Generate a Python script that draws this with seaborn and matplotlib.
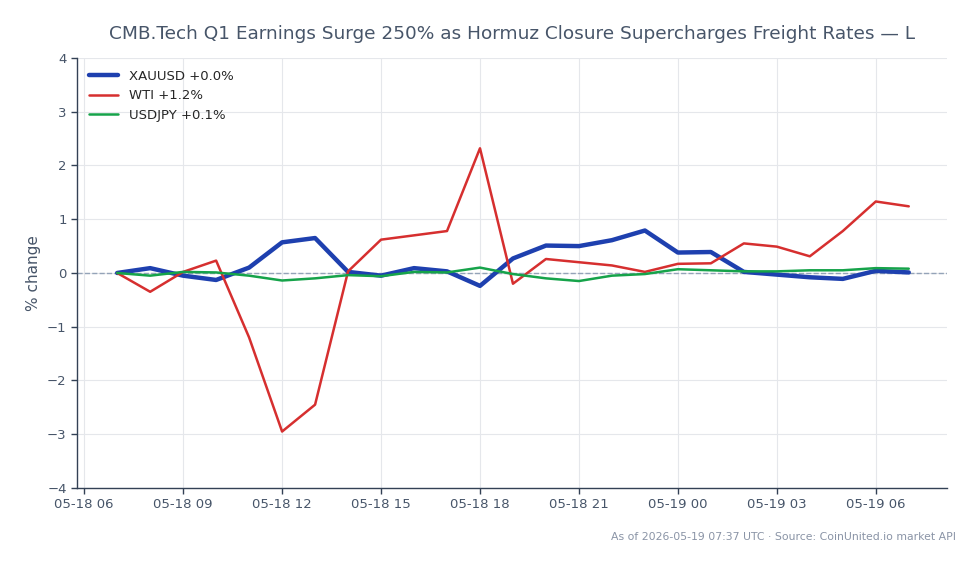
import pandas as pd
import numpy as np
import matplotlib.pyplot as plt
import matplotlib.dates as mdates
import seaborn as sns

# hourly % change, 05-18 07:00 -> 05-19 07:00
times = pd.date_range('2026-05-18 07:00', '2026-05-19 07:00', freq='h')

xauusd = [0.0, 0.09, -0.05, -0.13, 0.10, 0.57, 0.65, 0.02, -0.05, 0.09, 0.03, -0.24, 0.27,
          0.51, 0.50, 0.61, 0.79, 0.38, 0.39, 0.02, -0.03, -0.08, -0.11, 0.04, 0.01]
wti = [0.0, -0.35, 0.02, 0.23, -1.20, -2.95, -2.45, 0.03, 0.62, 0.70, 0.78, 2.32, -0.20,
       0.26, 0.20, 0.14, 0.02, 0.17, 0.18, 0.55, 0.49, 0.31, 0.78, 1.33, 1.24]
usdjpy = [0.0, -0.05, 0.02, 0.01, -0.05, -0.14, -0.10, -0.04, -0.06, 0.02, 0.01, 0.10, -0.02,
          -0.10, -0.15, -0.05, -0.02, 0.07, 0.05, 0.03, 0.03, 0.05, 0.05, 0.09, 0.08]

labels = ['XAUUSD +0.0%', 'WTI +1.2%', 'USDJPY +0.1%']
colors = ['#1e40af', '#d62f2f', '#16a34a']
widths = [3.2, 1.8, 1.8]

sns.set_theme(style='whitegrid')
plt.rcParams['font.family'] = ['DejaVu Sans']

fig = plt.figure(figsize=(9.79, 5.64), dpi=100)
ax = fig.add_axes([0.0787, 0.1348, 0.8883, 0.7624])

ax.axhline(0, color='#94a3b8', lw=1, ls='--', zorder=1)

for vals, lab, c, w in zip([xauusd, wti, usdjpy], labels, colors, widths):
    df = pd.DataFrame({'time': times, 'pct': vals})
    sns.lineplot(data=df, x='time', y='pct', ax=ax, color=c, linewidth=w, label=lab, zorder=3)

ax.set_xlim(pd.Timestamp('2026-05-18 05:47'), pd.Timestamp('2026-05-19 08:09'))
ax.set_ylim(-4, 4)
ax.xaxis.set_major_locator(mdates.HourLocator(byhour=range(0, 24, 3)))
ax.xaxis.set_major_formatter(mdates.DateFormatter('%m-%d %H'))
ax.set_yticks(range(-4, 5))
ax.set_yticklabels([('\u2212' + str(-v)) if v < 0 else str(v) for v in range(-4, 5)])

ax.set_facecolor('white')
ax.grid(True, color='#e5e7eb', lw=0.8)
for s in ['top', 'right']:
    ax.spines[s].set_visible(False)
for s in ['left', 'bottom']:
    ax.spines[s].set_color('#334155')
    ax.spines[s].set_linewidth(1)
ax.tick_params(axis='both', colors='#334155', labelcolor='#475569', labelsize=9.5,
               length=4, width=1, bottom=True, left=True)

ax.set_xlabel('')
ax.set_ylabel('% change', color='#475569', fontsize=11)
ax.set_title('CMB.Tech Q1 Earnings Surge 250% as Hormuz Closure Supercharges Freight Rates \u2014 L',
             color='#475569', fontsize=13.3, pad=14)

leg = ax.legend(loc='upper left', frameon=False, fontsize=9.5, handlelength=2.2)

fig.text(0.976, 0.047, 'As of 2026-05-19 07:37 UTC \u00b7 Source: CoinUnited.io market API',
         ha='right', va='center', color='#8a94a6', fontsize=7.8)

fig.savefig('out.png', dpi=100)
